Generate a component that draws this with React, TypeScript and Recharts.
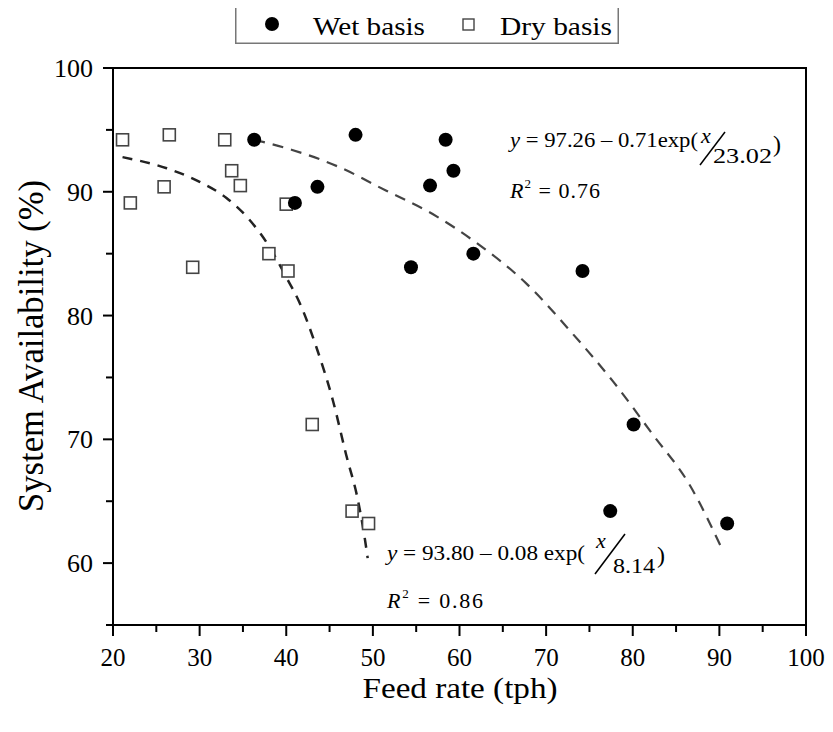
import React from "react";
import {
  ScatterChart,
  Scatter,
  XAxis,
  YAxis,
  ReferenceArea,
  Customized,
} from "recharts";

// points
const wetX = [36.3, 41.0, 43.6, 48.0, 54.4, 56.6, 58.4, 59.3, 61.6, 74.2, 77.4, 80.1, 90.9];
const wetY = [94.2, 89.1, 90.4, 94.6, 83.9, 90.5, 94.2, 91.7, 85.0, 83.6, 64.2, 71.2, 63.2];
const dryX = [21.1, 22.0, 25.9, 26.5, 29.2, 32.9, 33.7, 34.7, 38.0, 40.0, 40.2, 43.0, 47.6, 49.5];
const dryY = [94.2, 89.1, 90.4, 94.6, 83.9, 94.2, 91.7, 90.5, 85.0, 89.0, 83.6, 71.2, 64.2, 63.2];

// fitted curves
const wetFitX = [36.3, 40.6, 46.1, 51.5, 56.9, 61.9, 67.7, 73.1, 77.7, 82.3, 86.5, 90.4];
const wetFitY = [94.2, 93.4, 92.0, 90.1, 88.2, 85.9, 82.6, 78.5, 74.7, 70.4, 66.4, 61.0];
const dryFitX = [21.1, 26.2, 30.0, 33.1, 35.8, 38.1, 40.0, 41.5, 43.5, 45.4, 46.9, 48.3, 49.0, 49.4];
const dryFitY = [92.8, 91.9, 90.8, 89.5, 87.7, 85.5, 83.1, 81.1, 77.4, 73.1, 68.8, 65.0, 62.3, 60.4];

const xTicks = [20, 25, 30, 35, 40, 45, 50, 55, 60, 65, 70, 75, 80, 85, 90, 95, 100];
const yTicks = [55, 60, 65, 70, 75, 80, 85, 90, 95, 100];

const toPts = (xs: number[], ys: number[]) => xs.map((x, i) => ({ x, y: ys[i] }));

const FONT = "'Liberation Serif', 'Times New Roman', serif";

const XTick = (props: any) => {
  const { x, y, payload } = props;
  const major = payload.value % 10 === 0;
  return (
    <g>
      <line x1={x} y1={y} x2={x} y2={y + (major ? 11 : 7)} stroke="#000" strokeWidth={2} />
      {major && (
        <text x={x} y={y + 41} textAnchor="middle" fontSize={25} fontFamily={FONT} fill="#000">
          {payload.value}
        </text>
      )}
    </g>
  );
};

const YTick = (props: any) => {
  const { x, y, payload } = props;
  const major = payload.value % 10 === 0;
  return (
    <g>
      <line x1={x - (major ? 10 : 7)} y1={y} x2={x} y2={y} stroke="#000" strokeWidth={2} />
      {major && (
        <text x={x - 20} y={y + 9} textAnchor="end" fontSize={26} fontFamily={FONT} fill="#000">
          {payload.value}
        </text>
      )}
    </g>
  );
};

const Square = (props: any) => (
  <rect x={props.cx - 6} y={props.cy - 6} width={12} height={12} fill="#fff" stroke="#444" strokeWidth={1.6} />
);
const Dot = (props: any) => <circle cx={props.cx} cy={props.cy} r={7} fill="#000" />;
const NoShape = () => <g />;

const Annotations = () => (
  <g fontFamily={FONT} fill="#000">
    {/* y axis title */}
    <text
      x={35}
      y={338}
      transform="rotate(-90 35 338)"
      textAnchor="middle"
      fontSize={35}
      textLength={332}
      lengthAdjust="spacingAndGlyphs"
    >
      System Availability (%)
    </text>
    {/* x axis title */}
    <text x={452} y={690} textAnchor="middle" fontSize={30} textLength={195} lengthAdjust="spacingAndGlyphs">
      Feed rate (tph)
    </text>

    {/* wet basis fit */}
    <text x={502} y={139} fontSize={22} textLength={188} lengthAdjust="spacingAndGlyphs">
      <tspan fontStyle="italic">y</tspan>
      <tspan> = 97.26 – 0.71exp(</tspan>
    </text>
    <text x={693} y={135} fontSize={22} fontStyle="italic">x</text>
    <line x1={692} y1={157} x2={717} y2={124} stroke="#000" strokeWidth={1.5} />
    <text x={705} y={155} fontSize={22} textLength={59} lengthAdjust="spacingAndGlyphs">23.02</text>
    <text x={765} y={144} fontSize={24}>)</text>
    <text x={502} y={190} fontSize={22} textLength={90} lengthAdjust="spacing">
      <tspan fontStyle="italic">R</tspan>
      <tspan fontSize={13} dy={-10}>2</tspan>
      <tspan dy={10}> = 0.76</tspan>
    </text>

    {/* dry basis fit */}
    <text x={379} y={552} fontSize={22} textLength={198} lengthAdjust="spacingAndGlyphs">
      <tspan fontStyle="italic">y</tspan>
      <tspan> = 93.80 – 0.08 exp(</tspan>
    </text>
    <text x={588} y={540} fontSize={22} fontStyle="italic">x</text>
    <line x1={587} y1={566} x2={617} y2={526} stroke="#000" strokeWidth={1.5} />
    <text x={605} y={565} fontSize={22} textLength={42} lengthAdjust="spacingAndGlyphs">8.14</text>
    <text x={649} y={555} fontSize={24}>)</text>
    <text x={379} y={600} fontSize={22} textLength={96} lengthAdjust="spacing">
      <tspan fontStyle="italic">R</tspan>
      <tspan fontSize={13} dy={-10}>2</tspan>
      <tspan dy={10}> = 0.86</tspan>
    </text>
  </g>
);

const LegendBox = () => (
  <div style={{ position: "absolute", top: -5, left: 227, width: 384, height: 41 }}>
    <svg width={384} height={41} style={{ display: "block" }}>
      <rect x={0.75} y={0.75} width={382.5} height={39.5} fill="#fff" stroke="#777" strokeWidth={1.5} />
      <circle cx={37} cy={21} r={7} fill="#000" />
      <text x={78} y={32} fontSize={26} fontFamily={FONT} textLength={112} lengthAdjust="spacingAndGlyphs">
        Wet basis
      </text>
      <rect x={228} y={16} width={11} height={11} fill="#fff" stroke="#444" strokeWidth={1.4} />
      <text x={265} y={32} fontSize={26} fontFamily={FONT} textLength={112} lengthAdjust="spacingAndGlyphs">
        Dry basis
      </text>
    </svg>
  </div>
);

export default function App() {
  return (
    <div style={{ position: "relative", width: 825, height: 724 }}>
      <ScatterChart width={825} height={724} margin={{ top: 60, right: 27, bottom: 47, left: 30 }}>
        <XAxis
          dataKey="x"
          type="number"
          domain={[20, 100]}
          ticks={xTicks}
          interval={0}
          height={60}
          tickLine={false}
          tickSize={0}
          tickMargin={0}
          tick={<XTick />}
          axisLine={{ stroke: "#000", strokeWidth: 2 }}
        />
        <YAxis
          dataKey="y"
          type="number"
          domain={[55, 100]}
          ticks={yTicks}
          interval={0}
          width={75}
          tickLine={false}
          tickSize={0}
          tickMargin={0}
          tick={<YTick />}
          axisLine={{ stroke: "#000", strokeWidth: 2 }}
        />
        <ReferenceArea x1={20} x2={100} y1={55} y2={100} fill="none" stroke="#000" strokeWidth={2} />
        <Scatter
          data={toPts(wetFitX, wetFitY)}
          line={{ stroke: "#444", strokeWidth: 2.2, strokeDasharray: "11 8" }}
          lineType="joint"
          lineJointType="monotoneX"
          shape={<NoShape />}
          isAnimationActive={false}
        />
        <Scatter
          data={toPts(dryFitX, dryFitY)}
          line={{ stroke: "#222", strokeWidth: 2.5, strokeDasharray: "10 8" }}
          lineType="joint"
          lineJointType="monotoneX"
          shape={<NoShape />}
          isAnimationActive={false}
        />
        <Scatter data={toPts(dryX, dryY)} shape={<Square />} isAnimationActive={false} />
        <Scatter data={toPts(wetX, wetY)} shape={<Dot />} isAnimationActive={false} />
        <Customized component={<Annotations />} />
      </ScatterChart>
      <LegendBox />
    </div>
  );
}
